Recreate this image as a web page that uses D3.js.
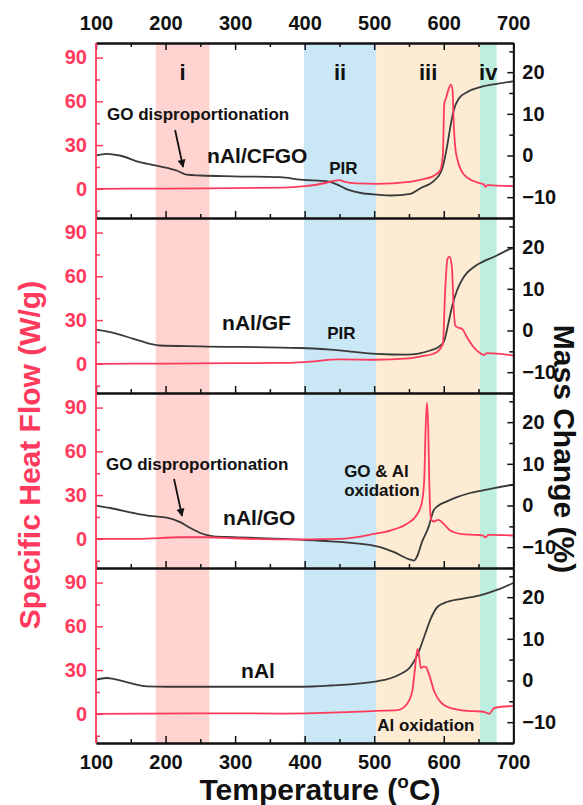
<!DOCTYPE html>
<html>
<head>
<meta charset="utf-8">
<script src="https://cdn.jsdelivr.net/npm/d3@7"></script>
<style>
body { margin: 0; background: #fff; }
svg text { font-family: Arial, "Liberation Sans", sans-serif; font-weight: bold; }
</style>
</head>
<body>
<div id="chart-area"></div>
<script>
// tick values
var xTicks = [100, 200, 300, 400, 500, 600, 700];
var xMinor = [150, 250, 350, 450, 550, 650];
var heatTicks = [0, 30, 60, 90];
var heatMinor = [-15, 15, 45, 75];
var massTicks = [-10, 0, 10, 20];
var massMinor = [-15, -5, 5, 15, 25];

// shaded temperature regions
var regionNames = ["i", "ii", "iii", "iv"];
var regionStart = [186, 399, 503, 652];
var regionEnd = [263, 503, 652, 676];
var regionColors = ["#ffd3cf", "#c9e7f5", "#fdebd4", "#bdeedf"];

var sampleNames = ["nAl/CFGO", "nAl/GF", "nAl/GO", "nAl"];

// [temperature, specific heat flow (W/g)]
var heatCFGO = [[100,0],[200,0.2],[300,0.5],[370,0.8],[400,1.8],[430,4],[440,5.2],[450,6],[458,4.8],[475,3.7],[503,3.4],[550,4.8],[566,6.2],[585,8.7],[595,12.7],[598.8,24],[600.7,58],[603.6,62.7],[607,68.4],[610.3,71.4],[612.7,67.3],[614.2,46.8],[616.5,28.6],[619.9,19.6],[626.2,11.6],[635.8,7.1],[650,4.1],[657,3.2],[660,1.4],[663,2.6],[670,2.4],[700,1.8]];
var heatGF = [[100,0],[200,0.2],[300,0.5],[365,0.6],[400,1.2],[450,3],[500,2.8],[550,3.8],[566,5],[585,6.9],[590,8],[598.8,13.7],[602,50.2],[605.4,72],[608.3,73.5],[611.7,66.2],[614.2,38.8],[616.5,26.3],[621.4,24.7],[626.2,24],[633.4,18.2],[643,11.4],[652.5,7.3],[657.4,6],[662,7.3],[700,5.7]];
var heatGO = [[100,0],[160,0],[221,1.1],[260,1.1],[298,0.4],[365,-0.4],[450,0],[500,3.4],[523,5.7],[547,10.3],[561.4,16.5],[568.6,25],[572,41],[573.9,75.5],[575.8,93.4],[577.7,75.5],[579.1,41],[581.6,13.7],[585.4,11.9],[592.5,13],[599.8,10.3],[609.4,5.7],[623.7,3.4],[647.8,2.7],[656,2.4],[659.7,1.1],[664.5,2.7],[700,2.3]];
var heatNAl = [[100,0],[300,0.3],[365,0.2],[450,1],[503.7,2],[533.5,2.6],[547.9,7.3],[555.1,16.4],[558.4,30],[562.3,44.5],[564.7,39.3],[567.1,31.3],[570.9,32.4],[574.3,32],[579.1,26.7],[586.3,15.3],[595.9,7.8],[610.3,3.9],[634.3,2],[653.4,1.6],[660,1],[665.4,0],[672.6,4],[700,5.5]];

// [temperature, mass change (%)]
var massCFGO = [[100,0],[115,0.4],[134,0],[163,-1.6],[192,-2.6],[216,-3.6],[230,-4.6],[250,-4.8],[298,-5],[365,-5.2],[394,-5.8],[433,-6.2],[447,-7],[462,-8.2],[481,-9],[504,-9.4],[524,-9.6],[552,-9.2],[566,-7.9],[585,-6.2],[597,-3.6],[604.6,2],[609.4,6.8],[614.2,10.8],[621.4,13.6],[633.4,15.2],[652.5,16.4],[676.5,17.2],[700,17.8]];
var massGF = [[100,0.2],[120.6,-0.4],[154,-2],[178,-3.2],[192,-3.6],[250,-3.8],[394,-4.2],[437,-4.6],[503,-5.6],[547,-5.8],[580.7,-4.8],[590,-4.2],[599.8,-2.8],[607,2],[611.7,5.6],[619,9.6],[628.5,12.8],[643,15.2],[652.5,16.2],[676.5,18],[695.7,19.6],[700,19.8]];
var massGO = [[100,0],[120.6,-0.6],[154.2,-1.8],[178,-2.5],[202,-2.9],[221,-4],[235.6,-5.4],[250,-6.6],[269,-7.4],[297.6,-7.6],[393.5,-8.2],[437,-8.6],[503.7,-9.8],[528.6,-11.2],[552,-13],[557.4,-13.2],[562.2,-12],[568.6,-8.8],[578.1,-5.2],[585.4,-1.2],[592.5,0],[604.6,1],[619,2],[638,3],[666.9,4],[700,5]];
var massNAl = [[100,0.2],[115,0.6],[144,-0.4],[173,-1.4],[202,-1.5],[393.5,-1.5],[437,-1.2],[503.7,-0.2],[533.5,1.2],[552.7,3.4],[562.3,6.2],[571.9,10.5],[581.5,14.9],[591.1,17.7],[605.5,18.9],[629.5,19.7],[653.4,20.5],[677.4,21.8],[700,23.4]];

var heatSeries = [heatCFGO, heatGF, heatGO, heatNAl];
var massSeries = [massCFGO, massGF, massGO, massNAl];

var red = "#ff3a5c", dark = "#3a3a3a";

// layout
var W = 583, H = 805;
var plotLeft = 96, plotRight = 513.3, plotTop = 43, panelH = 175;

var svg = d3.select("#chart-area")
  .append("svg")
  .attr("width", W)
  .attr("height", H);

var x = d3.scaleLinear().domain([100, 700]).range([plotLeft, plotRight]);

// shaded bands over all four panels
svg.selectAll("rect.band")
  .data(regionNames)
  .enter()
  .append("rect")
  .attr("class", "band")
  .attr("x", function(d, i) { return x(regionStart[i]); })
  .attr("width", function(d, i) { return x(regionEnd[i]) - x(regionStart[i]); })
  .attr("y", plotTop)
  .attr("height", panelH * 4)
  .attr("fill", function(d, i) { return regionColors[i]; });

// region labels (in top panel, heat-flow units)
var yHeat0 = d3.scaleLinear().domain([-20, 100]).range([plotTop + panelH, plotTop]);
svg.selectAll("text.region")
  .data(regionNames)
  .enter()
  .append("text")
  .attr("class", "region")
  .attr("x", function(d, i) { return x((regionStart[i] + regionEnd[i]) / 2); })
  .attr("y", yHeat0(74.6))
  .attr("text-anchor", "middle")
  .attr("fill", "#111")
  .style("font-size", "22px")
  .text(function(d) { return d; });

// arrow head
svg.append("defs").append("marker")
  .attr("id", "arrow")
  .attr("viewBox", "0 0 10 10")
  .attr("refX", 9).attr("refY", 5)
  .attr("markerWidth", 9).attr("markerHeight", 8)
  .attr("markerUnits", "userSpaceOnUse")
  .attr("orient", "auto")
  .append("path")
  .attr("d", "M0,0 L10,5 L0,10 Z")
  .attr("fill", "#111");

// annotations: [panel, text, temperature, heat value, size]
var notes = [
  [0, "GO disproportionation", 115.8, 47.2, 17],
  [0, "nAl/CFGO", 259.7, 17.4, 21],
  [0, "PIR", 435.3, 10.2, 17],
  [1, "nAl/GF", 281.3, 22.9, 21],
  [1, "PIR", 432.4, 17, 17],
  [2, "GO disproportionation", 114.4, 47.2, 17],
  [2, "nAl/GO", 282.7, 9.8, 21],
  [2, "GO & Al", 456.8, 42.4, 17],
  [2, "oxidation", 456.8, 29.4, 17],
  [3, "nAl", 308.6, 24.9, 21],
  [3, "Al oxidation", 504.3, -11.8, 17]
];
// arrows: [panel, t1, v1, t2, v2]
var arrows = [
  [0, 213.7, 40.3, 225.2, 15],
  [2, 212.2, 41, 223.7, 15.7]
];

var leftAxes = [];

sampleNames.forEach(function(name, p) {
  var y0 = plotTop + p * panelH, y1 = y0 + panelH;
  var yHeat = d3.scaleLinear().domain([-20, 100]).range([y1, y0]);
  var yMass = d3.scaleLinear().domain([-15, 27]).range([y1, y0]);

  var g = svg.append("g");

  // curves
  g.append("path")
    .datum(massSeries[p])
    .attr("fill", "none")
    .attr("stroke", dark)
    .attr("stroke-width", 1.8)
    .attr("d", d3.line()
      .x(function(d) { return x(d[0]); })
      .y(function(d) { return yMass(d[1]); })
      .curve(d3.curveMonotoneX));

  g.append("path")
    .datum(heatSeries[p])
    .attr("fill", "none")
    .attr("stroke", red)
    .attr("stroke-width", 1.8)
    .attr("d", d3.line()
      .x(function(d) { return x(d[0]); })
      .y(function(d) { return yHeat(d[1]); })
      .curve(d3.curveMonotoneX));

  // right axis (mass change)
  g.append("g").attr("transform", "translate(" + plotRight + ",0)")
    .call(d3.axisRight(yMass).tickValues(massTicks).tickSize(-6).tickSizeOuter(0).tickPadding(9));
  g.append("g").attr("transform", "translate(" + plotRight + ",0)")
    .call(d3.axisRight(yMass).tickValues(massMinor).tickSize(-4).tickSizeOuter(0).tickFormat(""));

  // bottom axis
  var bottom = d3.axisBottom(x).tickValues(xTicks).tickSize(-7).tickSizeOuter(0).tickPadding(12);
  if (p < 3) bottom.tickFormat("");
  g.append("g").attr("transform", "translate(0," + y1 + ")").call(bottom);
  g.append("g").attr("transform", "translate(0," + y1 + ")")
    .call(d3.axisBottom(x).tickValues(xMinor).tickSize(-4).tickSizeOuter(0).tickFormat(""));

  // top axis only on first panel
  if (p == 0) {
    g.append("g").attr("transform", "translate(0," + y0 + ")")
      .call(d3.axisTop(x).tickValues(xTicks).tickSize(-7).tickSizeOuter(0).tickPadding(13));
    g.append("g").attr("transform", "translate(0," + y0 + ")")
      .call(d3.axisTop(x).tickValues(xMinor).tickSize(-4).tickSizeOuter(0).tickFormat(""));
  }

  // left axis (heat flow)
  leftAxes.push(g.append("g").attr("transform", "translate(" + plotLeft + ",0)")
    .call(d3.axisLeft(yHeat).tickValues(heatTicks).tickSize(-7).tickSizeOuter(0).tickPadding(9)));
  leftAxes.push(g.append("g").attr("transform", "translate(" + plotLeft + ",0)")
    .call(d3.axisLeft(yHeat).tickValues(heatMinor).tickSize(-4).tickSizeOuter(0).tickFormat("")));

  // annotation text
  notes.filter(function(n) { return n[0] == p; }).forEach(function(n) {
    g.append("text")
      .attr("x", x(n[2]))
      .attr("y", yHeat(n[3]))
      .style("font-size", n[4] + "px")
      .attr("fill", "#111")
      .text(n[1]);
  });
  arrows.filter(function(a) { return a[0] == p; }).forEach(function(a) {
    g.append("line")
      .attr("x1", x(a[1])).attr("y1", yHeat(a[2]))
      .attr("x2", x(a[3])).attr("y2", yHeat(a[4]))
      .attr("stroke", "#111")
      .attr("stroke-width", 1.8)
      .attr("marker-end", "url(#arrow)");
  });
});

// axis styling
svg.selectAll(".domain").attr("stroke", "#111").attr("stroke-width", 1.8);
svg.selectAll(".tick line").attr("stroke", "#111").attr("stroke-width", 1.5);
svg.selectAll(".tick text").style("font-size", "20px").attr("fill", "#111");

// left axis in red, one line over the full height
leftAxes.forEach(function(a) {
  a.selectAll(".tick line").attr("stroke", red);
  a.selectAll(".tick text").attr("fill", red);
  a.select(".domain").remove();
});
svg.append("line")
  .attr("x1", plotLeft).attr("x2", plotLeft)
  .attr("y1", plotTop).attr("y2", plotTop + panelH * 4)
  .attr("stroke", red).attr("stroke-width", 1.8);

// axis titles
svg.append("text")
  .attr("transform", "translate(40,455) rotate(-90)")
  .attr("text-anchor", "middle")
  .attr("fill", red)
  .style("font-size", "30px")
  .text("Specific Heat Flow (W/g)");

svg.append("text")
  .attr("transform", "translate(554,449) rotate(90)")
  .attr("text-anchor", "middle")
  .attr("fill", "#111")
  .style("font-size", "30px")
  .text("Mass Change (%)");

var xt = svg.append("text")
  .attr("x", 320)
  .attr("y", 800)
  .attr("text-anchor", "middle")
  .attr("fill", "#111")
  .style("font-size", "30px");
xt.append("tspan").text("Temperature (");
xt.append("tspan").attr("dy", -12).style("font-size", "19px").text("o");
xt.append("tspan").attr("dy", 12).text("C)");
</script>
</body>
</html>
